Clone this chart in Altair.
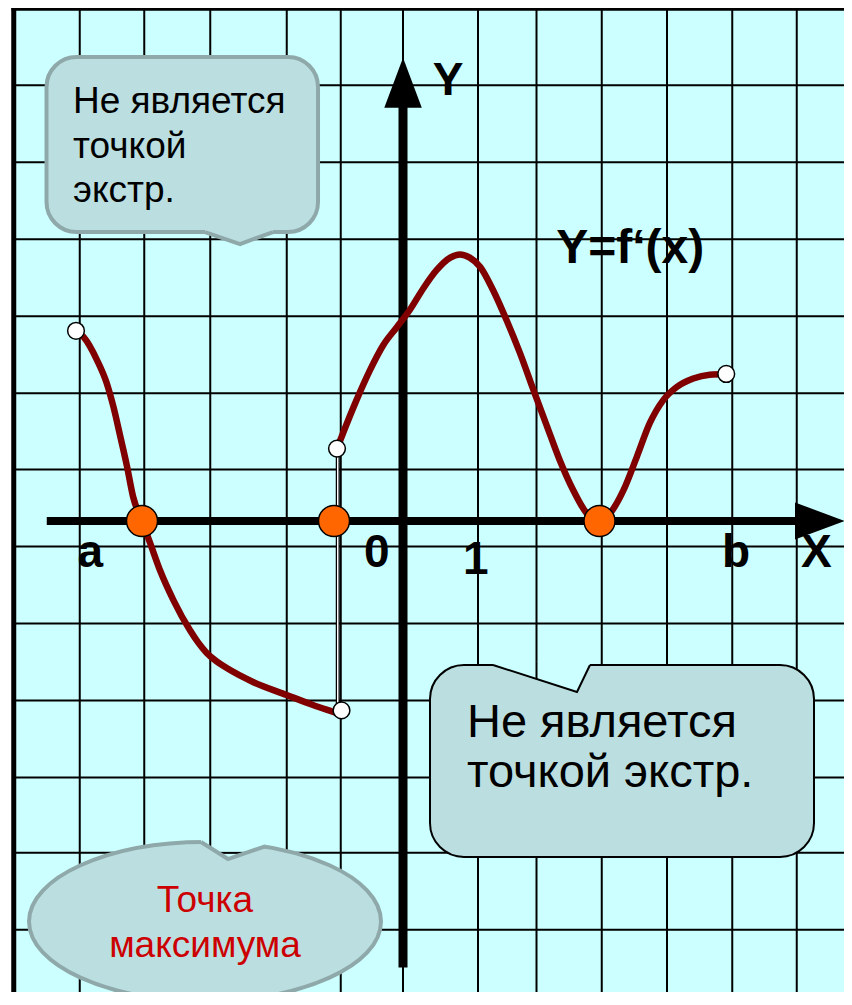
import altair as alt
import numpy as np
import pandas as pd

# ---------------- values (grid units) ----------------
# x: 1 unit = distance from the Y axis to the tick "1"; y: 1 unit = one grid row
left_x = [-4.36, -4.26, -4.08, -3.95, -3.86, -3.77, -3.68, -3.60, -3.48, -3.37,
          -3.24, -3.06, -2.84, -2.73, -2.62, -2.49, -2.35, -2.00, -1.55, -1.20,
          -0.93, -0.84]
left_y = [2.47, 2.39, 2.09, 1.79, 1.48, 1.10, 0.71, 0.32, 0.00, -0.29,
          -0.64, -1.03, -1.42, -1.58, -1.71, -1.82, -1.91, -2.09, -2.26, -2.39,
          -2.48, -2.51]
right_x = [-0.88, -0.80, -0.62, -0.44, -0.26, -0.08, 0.09, 0.27, 0.45, 0.63, 0.76,
           0.89, 1.03, 1.20, 1.38, 1.56, 1.74, 1.92, 2.09, 2.27, 2.45, 2.61,
           2.76, 2.94, 3.12, 3.29, 3.47, 3.65, 3.87, 4.09, 4.31]
right_y = [0.94, 1.14, 1.57, 1.96, 2.29, 2.52, 2.74, 3.02, 3.26, 3.42, 3.46,
           3.42, 3.30, 3.00, 2.61, 2.18, 1.70, 1.23, 0.79, 0.40, 0.10, 0.00,
           0.10, 0.40, 0.84, 1.27, 1.57, 1.74, 1.85, 1.90, 1.91]

zero_x = [-3.48, -0.92, 2.62]                 # orange points on the X axis
open_x = [-4.36, -0.88, -0.82, 4.31]          # open (white) end points
open_y = [2.47, 0.94, -2.46, 1.91]
jump_x = [-0.87]                              # thin line at the break
jump_top = [0.94]
jump_bot = [-2.42]

grid_x = [-4.31, -3.45, -2.57, -1.55, -0.83, 0.0, 1.0, 1.78, 2.65, 3.52, 4.39, 5.25]
grid_y = [5.66, 4.66, 3.66, 2.66, 1.66, 0.67, -0.33, -1.33, -2.33, -3.33, -4.31, -5.31]
frame_left = -5.19
frame_top = 6.66

x_axis = [-4.75, 5.30]
y_axis = [-5.80, 5.45]
arrow_x = [5.56]      # centre of the X arrow head
arrow_y = [5.69]      # centre of the Y arrow head

tick_text = ["a", "0", "1", "b", "X", "Y"]
tick_x = [-4.17, -0.35, 0.97, 4.44, 5.51, 0.60]
tick_y = [-0.60, -0.60, -0.69, -0.60, -0.60, 5.53]
func_text = ["Y=f\u2018(x)"]
func_x = [3.03]
func_y = [3.35]

# callout 1 (top left)
c1_lines = ["Не является", "точкой", "экстр."]
c1_box = dict(x=-4.753, x2=-1.133, y=6.026, y2=3.753)
c1_tail_x = [-2.64, -2.173, -1.733]
c1_tail_y = [3.753, 3.597, 3.753]
c1_text_x, c1_text_y, c1_step = -4.40, 5.295, 0.578
# callout 2 (bottom right)
c2_lines = ["Не является", "точкой экстр."]
c2_box = dict(x=0.36, x2=5.48, y=-1.870, y2=-4.364)
c2_notch_x = [1.20, 2.32, 2.493]
c2_notch_y = [-1.870, -2.221, -1.870]
c2_text_x, c2_text_y, c2_step = 0.853, -2.805, 0.655
# callout 3 (ellipse)
c3_lines = ["Точка", "максимума"]
c3_centre = dict(x=-2.64, y=-5.201)
c3_notch_x = [-2.693, -2.333, -1.827]
c3_notch_y = [-4.169, -4.390, -4.221]
c3_text_x, c3_text_y, c3_step = -2.64, -5.074, 0.584

# ---------------- scales / layout ----------------
W, H = 836, 984
UX, UY = 75.0, 77.0               # px per unit
x_lo = (8 - 403) / UX
x_hi = x_lo + W / UX
y_hi = (521 - 8) / UY
y_lo = y_hi - H / UY
xs = alt.Scale(domain=[x_lo, x_hi], nice=False, zero=False)
ys = alt.Scale(domain=[y_lo, y_hi], nice=False, zero=False)

BG = "#CCFFFF"
BOX = "#BBDFE1"
BOXLINE = "#8FA9AA"
CURVE = "#800000"
FONT = "Liberation Sans"


def X(f="x"):
    return alt.X(f"{f}:Q", scale=xs, axis=None)


def Y(f="y"):
    return alt.Y(f"{f}:Q", scale=ys, axis=None)


def rules(df, **mk):
    return alt.Chart(df).mark_rule(**mk).encode(
        x=X("x"), x2=alt.X2("x2"), y=Y("y"), y2=alt.Y2("y2"))


layers = []

# background panel
layers.append(alt.Chart(pd.DataFrame([dict(x=frame_left, x2=x_hi, y=frame_top, y2=y_lo)]))
              .mark_rect(fill=BG).encode(x=X("x"), x2=alt.X2("x2"), y=Y("y"), y2=alt.Y2("y2")))

# grid
gv = pd.DataFrame({"x": grid_x, "x2": grid_x, "y": frame_top, "y2": y_lo})
gh = pd.DataFrame({"x": frame_left, "x2": x_hi, "y": grid_y, "y2": grid_y})
layers.append(rules(gv, color="black", strokeWidth=2))
layers.append(rules(gh, color="black", strokeWidth=2))
# frame
layers.append(rules(pd.DataFrame([dict(x=frame_left, x2=frame_left, y=frame_top + 0.05, y2=y_lo)]),
                    color="black", strokeWidth=5))
layers.append(rules(pd.DataFrame([dict(x=frame_left - 0.03, x2=x_hi, y=frame_top, y2=frame_top)]),
                    color="black", strokeWidth=5))

# axes
layers.append(rules(pd.DataFrame([dict(x=x_axis[0], x2=x_axis[1], y=0.0, y2=0.0)]),
                    color="black", strokeWidth=8))
layers.append(rules(pd.DataFrame([dict(x=0.0, x2=0.0, y=y_axis[0], y2=y_axis[1])]),
                    color="black", strokeWidth=9))
layers.append(alt.Chart(pd.DataFrame({"x": arrow_x, "y": [0.0]})).mark_point(
    shape="M-1,-0.74L1,0L-1,0.74Z", size=2500, filled=True, fill="black",
    strokeWidth=0, opacity=1).encode(x=X(), y=Y()))
layers.append(alt.Chart(pd.DataFrame({"x": [0.0], "y": arrow_y})).mark_point(
    shape="M-0.75,1L0,-1L0.75,1Z", size=2500, filled=True, fill="black",
    strokeWidth=0, opacity=1).encode(x=X(), y=Y()))

# thin line at the break
jdf = pd.DataFrame({"x": jump_x, "x2": jump_x, "y": jump_top, "y2": jump_bot})
layers.append(rules(jdf, color="black", strokeWidth=4))
layers.append(rules(jdf, color="white", strokeWidth=1.5))

# the curve
curve = pd.concat([
    pd.DataFrame({"x": left_x, "y": left_y, "seg": "left"}),
    pd.DataFrame({"x": right_x, "y": right_y, "seg": "right"}),
])
layers.append(alt.Chart(curve).mark_line(color=CURVE, strokeWidth=6.5, interpolate="monotone")
              .encode(x=X(), y=Y(), detail="seg:N"))

# zeros and open ends
layers.append(alt.Chart(pd.DataFrame({"x": zero_x, "y": [0.0] * len(zero_x)})).mark_point(
    shape="circle", size=961, filled=True, fill="#FF6600", stroke="black",
    strokeWidth=1.5, opacity=1).encode(x=X(), y=Y()))
layers.append(alt.Chart(pd.DataFrame({"x": open_x, "y": open_y})).mark_point(
    shape="circle", size=280, filled=True, fill="white", stroke="black",
    strokeWidth=1.5, opacity=1).encode(x=X(), y=Y()))

# axis letters
layers.append(alt.Chart(pd.DataFrame({"t": tick_text, "x": tick_x, "y": tick_y})).mark_text(
    font=FONT, fontSize=46, fontWeight="bold", color="black", align="center",
    baseline="alphabetic").encode(x=X(), y=Y(), text="t:N"))
layers.append(alt.Chart(pd.DataFrame({"t": func_text, "x": func_x, "y": func_y})).mark_text(
    font=FONT, fontSize=48, fontWeight="bold", color="black", align="center",
    baseline="alphabetic").encode(x=X(), y=Y(), text="t:N"))


def text_rows(lines, x0, y0, step):
    return pd.DataFrame({"t": lines, "x": x0, "y": [y0 - i * step for i in range(len(lines))]})


def notch(nx, ny, top, edge_color, edge_width):
    out = []
    out.append(alt.Chart(pd.DataFrame({"x": nx, "y": [top] * len(nx), "y2": ny}))
               .mark_area(fill=BG, orient="vertical", opacity=1)
               .encode(x=X(), y=Y(), y2=alt.Y2("y2")))
    fixes = []
    for gx in grid_x:
        if nx[0] < gx < nx[-1]:
            fixes.append(dict(x=gx, x2=gx, y=top, y2=float(np.interp(gx, nx, ny))))
    for gy in grid_y:
        if min(ny) < gy < top:
            xa = float(np.interp(gy, [ny[1], ny[0]], [nx[1], nx[0]]))
            xb = float(np.interp(gy, [ny[1], ny[2]], [nx[1], nx[2]]))
            fixes.append(dict(x=xa, x2=xb, y=gy, y2=gy))
    if fixes:
        out.append(rules(pd.DataFrame(fixes), color="black", strokeWidth=2))
    out.append(alt.Chart(pd.DataFrame({"x": nx, "y": ny})).mark_line(
        color=edge_color, strokeWidth=edge_width, strokeJoin="miter").encode(x=X(), y=Y()))
    return out


# callout 1
layers.append(alt.Chart(pd.DataFrame([c1_box])).mark_rect(
    fill=BOX, stroke=BOXLINE, strokeWidth=4, cornerRadius=30)
    .encode(x=X("x"), x2=alt.X2("x2"), y=Y("y"), y2=alt.Y2("y2")))
layers.append(alt.Chart(pd.DataFrame({"x": c1_tail_x, "y": [c1_box["y2"] + 0.06] * 3, "y2": c1_tail_y}))
              .mark_area(fill=BOX, orient="vertical", opacity=1)
              .encode(x=X(), y=Y(), y2=alt.Y2("y2")))
layers.append(alt.Chart(pd.DataFrame({"x": c1_tail_x, "y": c1_tail_y})).mark_line(
    color=BOXLINE, strokeWidth=4).encode(x=X(), y=Y()))
layers.append(alt.Chart(text_rows(c1_lines, c1_text_x, c1_text_y, c1_step)).mark_text(
    font=FONT, fontSize=37, color="black", align="left", baseline="alphabetic")
    .encode(x=X(), y=Y(), text="t:N"))

# callout 2
layers.append(alt.Chart(pd.DataFrame([c2_box])).mark_rect(
    fill=BOX, stroke="black", strokeWidth=2, cornerRadius=34)
    .encode(x=X("x"), x2=alt.X2("x2"), y=Y("y"), y2=alt.Y2("y2")))
layers += notch(c2_notch_x, c2_notch_y, c2_box["y"] + 0.05, "black", 2)
layers.append(alt.Chart(text_rows(c2_lines, c2_text_x, c2_text_y, c2_step)).mark_text(
    font=FONT, fontSize=47, color="black", align="left", baseline="alphabetic")
    .encode(x=X(), y=Y(), text="t:N"))

# callout 3 (ellipse)
layers.append(alt.Chart(pd.DataFrame([c3_centre])).mark_point(
    shape="M-1,0A1,0.4517,0,1,0,1,0A1,0.4517,0,1,0,-1,0Z", size=352 * 352,
    filled=True, fill=BOX, stroke=BOXLINE, strokeWidth=4, opacity=1)
    .encode(x=X(), y=Y()))
layers += notch(c3_notch_x, c3_notch_y, -4.078, BOXLINE, 4)
layers.append(alt.Chart(text_rows(c3_lines, c3_text_x, c3_text_y, c3_step)).mark_text(
    font=FONT, fontSize=37, color="#CC0000", align="center", baseline="alphabetic")
    .encode(x=X(), y=Y(), text="t:N"))

chart = alt.layer(*layers).properties(
    width=W, height=H, padding=0,
    autosize=alt.AutoSizeParams(type="none"),
).configure_view(stroke=None)

chart.save("out.html", embed_options={"renderer": "svg", "actions": False})
